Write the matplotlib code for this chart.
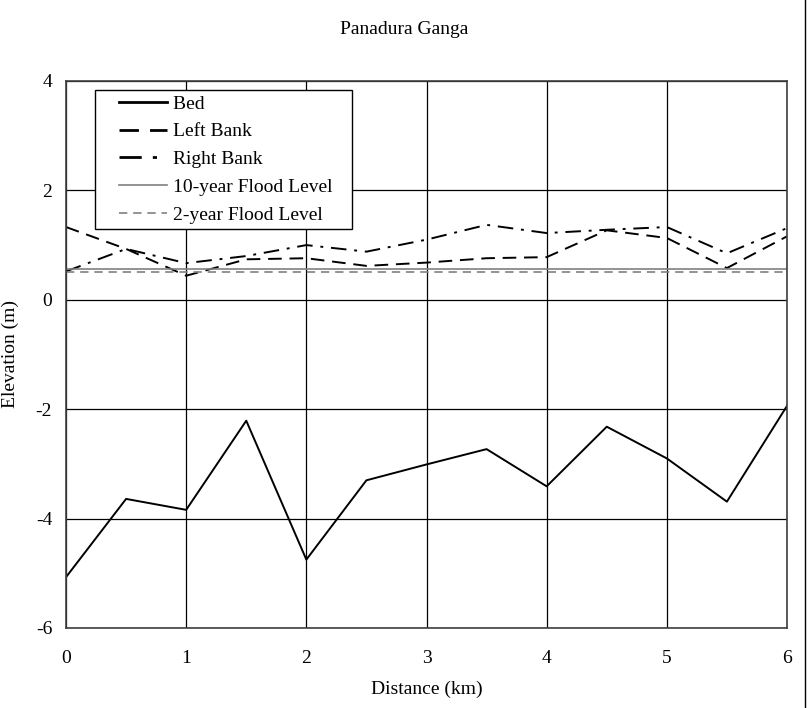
import matplotlib
matplotlib.use("Agg")
import matplotlib.pyplot as plt
from matplotlib.lines import Line2D
from matplotlib.legend_handler import HandlerLine2D

plt.rcParams['font.family'] = ['Liberation Serif', 'DejaVu Serif']

# distance along river (km)
dist = [0, 0.5, 1, 1.5, 2, 2.5, 3, 3.5, 4, 4.5, 5, 5.5, 6]
bed = [-5.07, -3.64, -3.84, -2.21, -4.75, -3.30, -3.01, -2.73, -3.41, -2.32, -2.90, -3.69, -1.94]
left_bank = [1.33, 0.93, 0.44, 0.74, 0.76, 0.62, 0.68, 0.76, 0.78, 1.27, 1.13, 0.58, 1.16]
right_bank = [0.52, 0.93, 0.67, 0.80, 1.00, 0.88, 1.10, 1.37, 1.22, 1.28, 1.33, 0.85, 1.31]
flood10 = [0.56] * len(dist)
flood2 = [0.50] * len(dist)

xticks = [0, 1, 2, 3, 4, 5, 6]
yticks = [-6, -4, -2, 0, 2, 4]


class ShiftedLine(HandlerLine2D):
    # draw the legend sample only in the right part of the handle box
    def get_xdata(self, legend, xdescent, ydescent, width, height, fontsize):
        x = [-xdescent + width * 0.28, -xdescent + width]
        return x, x


fig = plt.figure(figsize=(8.09, 7.08), dpi=100)
ax = fig.add_axes([0.0816, 0.113, 0.8912, 0.7726])

ax.plot(dist, bed, color='black', lw=1.4, label='Bed')
ax.plot(dist, left_bank, color='black', lw=1.4, dashes=(7, 4), label='Left Bank')
ax.plot(dist, right_bank, color='black', lw=1.4, dashes=(8, 4, 1.5, 4), label='Right Bank')
ax.plot(dist, flood10, color='#808080', lw=1.2, label='10-year Flood Level')
ax.plot(dist, flood2, color='#808080', lw=1.2, dashes=(5, 3.5), label='2-year Flood Level')

ax.set_xlim(0, 6)
ax.set_ylim(-6, 4)
ax.set_xticks(xticks)
ax.set_yticks(yticks)
ax.set_yticklabels([str(v) for v in yticks])
ax.tick_params(length=0, labelsize=14)
ax.tick_params(axis='x', pad=16)
ax.tick_params(axis='y', pad=10)
ax.grid(True, color='black', lw=0.9)
ax.set_axisbelow(True)
for s in ax.spines.values():
    s.set_color('#404040')
    s.set_linewidth(1.2)

ax.set_xlabel('Distance (km)', fontsize=14, labelpad=10)
ax.set_ylabel('Elevation (m)', fontsize=14, labelpad=12)
fig.text(0.5, 0.958, 'Panadura Ganga', ha='center', va='center', fontsize=14)

labels = ['Bed', 'Left Bank', 'Right Bank', '10-year Flood Level', '2-year Flood Level']
handles = ax.get_lines()
leg = ax.legend(handles, [l + '   ' for l in labels], loc='upper left',
                bbox_to_anchor=(0.0402, 0.983), fontsize=14,
                frameon=True, fancybox=False, handlelength=3.45, handletextpad=0.3,
                labelspacing=0.52, borderpad=0.25, borderaxespad=0,
                handler_map={Line2D: ShiftedLine()})
leg.get_frame().set_edgecolor('black')
leg.get_frame().set_linewidth(1.0)
leg.get_frame().set_alpha(1)
for h in leg.legend_handles:
    h.set_linewidth(2.0 if h.get_color() == 'black' else 1.2)

fig.add_artist(Line2D([0.9945, 0.9945], [0, 1], transform=fig.transFigure, color='black', lw=1))

fig.savefig('out.png', dpi=100)
